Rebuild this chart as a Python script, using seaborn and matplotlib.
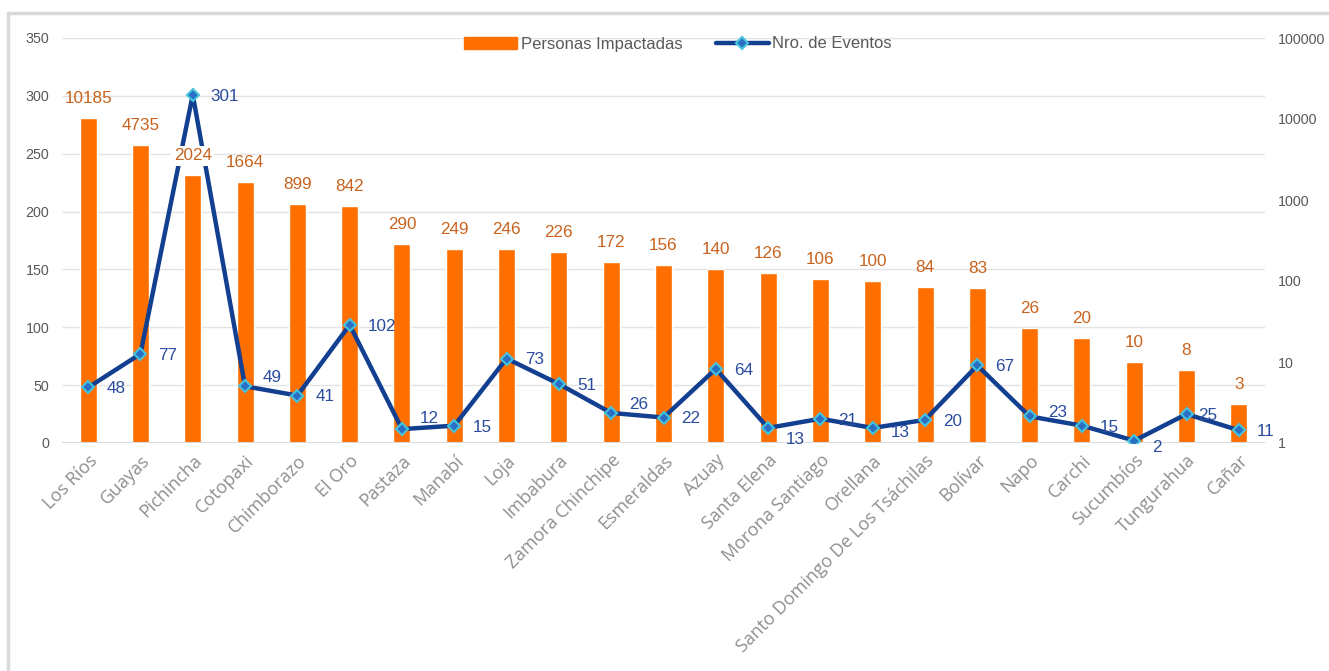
import matplotlib
matplotlib.use('Agg')
import matplotlib.pyplot as plt
import seaborn as sns
import numpy as np
from matplotlib.lines import Line2D
from matplotlib.patches import Patch

# Datos
provincias = ['Los Ríos', 'Guayas', 'Pichincha', 'Cotopaxi', 'Chimborazo', 'El Oro', 'Pastaza',
              'Manabí', 'Loja', 'Imbabura', 'Zamora Chinchipe', 'Esmeraldas', 'Azuay', 'Santa Elena',
              'Morona Santiago', 'Orellana', 'Santo Domingo De Los Tsáchilas', 'Bolívar', 'Napo',
              'Carchi', 'Sucumbíos', 'Tungurahua', 'Cañar']
personas = [10185, 4735, 2024, 1664, 899, 842, 290, 249, 246, 226, 172, 156, 140, 126, 106, 100,
            84, 83, 26, 20, 10, 8, 3]
eventos = [48, 77, 301, 49, 41, 102, 12, 15, 73, 51, 26, 22, 64, 13, 21, 13, 20, 67, 23, 15, 2, 25, 11]

naranja = '#FF6F00'
azul = '#123F8F'
gris = '#595959'

sns.set_style('white')
plt.rcParams['font.family'] = ['Liberation Sans', 'DejaVu Sans']

fig = plt.figure(figsize=(13.29, 6.71), dpi=100)
ax = fig.add_axes([62 / 1329, 1 - 443 / 671, 1203 / 1329, 405 / 671])
ax_b = ax.twinx()

# Barras (eje derecho logarítmico)
ax_b.set_yscale('log')
sns.barplot(x=list(range(len(provincias))), y=personas, ax=ax_b, color=naranja,
            width=0.325, saturation=1, native_scale=True, zorder=2)
ax_b.set_ylim(1, 100000)

# Líneas de cuadrícula (eje izquierdo 0-350)
fr = np.arange(0, 8) / 7
ax_b.hlines(fr[1:], 0, 1, transform=ax_b.transAxes, color='#E3E3E3', lw=1, zorder=0)
ax_b.hlines([0], 0, 1, transform=ax_b.transAxes, color='#D9D9D9', lw=1.5, zorder=3)

# Línea (eje izquierdo)
ax.set_zorder(ax_b.get_zorder() + 1)
ax.patch.set_visible(False)
sns.lineplot(x=list(range(len(provincias))), y=eventos, ax=ax, color=azul, lw=3.2,
             marker='D', markersize=6, markerfacecolor='#2A6FC4', markeredgecolor='#45C3DD',
             markeredgewidth=1.5, zorder=4)
ax.set_ylim(0, 350)
ax.set_yticks(range(0, 351, 50))

# Etiquetas de las barras
for i, v in enumerate(personas):
    caja = dict(boxstyle='square,pad=0.15', fc='white', ec='none') if i == 2 else None
    ax.annotate(str(v), (i, v), xycoords=ax_b.transData, xytext=(0, 14),
                textcoords='offset points', ha='center', va='center', fontsize=12.3,
                color='#C8621C', zorder=6, bbox=caja)

# Etiquetas de la línea
dy = {3: 7, 6: 9, 10: 7, 13: -7, 15: -2, 18: 4, 20: -4}
dx = {21: -5}
for i, v in enumerate(eventos):
    ax.annotate(str(v), (i, v), xytext=(13 + dx.get(i, 0), -1 + dy.get(i, 0)),
                textcoords='offset points', ha='left', va='center', fontsize=12.3,
                color='#2A4C9E', zorder=6)

ax.set_xlim(-0.5, len(provincias) - 0.5)
ax.set_xticks(range(len(provincias)))
ax.set_xticklabels(provincias, rotation=45, ha='right', rotation_mode='anchor',
                   fontsize=13, color='#8F8F8F', family=['Open Sans', 'DejaVu Sans'])
ax_b.set_xticks(range(len(provincias)))

ax.tick_params(axis='y', length=0, pad=9, labelsize=10.3, labelcolor=gris)
ax.tick_params(axis='x', length=0, pad=6)
ax_b.tick_params(axis='y', which='both', length=0, pad=9, labelsize=10.3, labelcolor=gris)
ax_b.yaxis.set_major_formatter(matplotlib.ticker.FuncFormatter(lambda y, p: f'{int(y)}'))
ax_b.yaxis.set_minor_locator(matplotlib.ticker.NullLocator())
ax.set_xlabel('')
ax.set_ylabel('')
ax_b.set_ylabel('')
for a in (ax, ax_b):
    for s in a.spines.values():
        s.set_visible(False)

# Leyenda
handles = [Patch(color=naranja),
           Line2D([0], [0], color=azul, lw=3.2, marker='D', markersize=6,
                  markerfacecolor='#2A6FC4', markeredgecolor='#45C3DD', markeredgewidth=1.5)]
fig.legend(handles, ['Personas Impactadas', 'Nro. de Eventos'], loc='center',
           bbox_to_anchor=(678 / 1329, 1 - 44 / 671), ncol=2, frameon=False, fontsize=12,
           labelcolor=gris, handlelength=3.2, handletextpad=0.2, columnspacing=2)

# Borde del gráfico
fig.add_artist(Line2D([8 / 1329, 8 / 1329], [0, 1 - 13 / 671], color='#D9D9D9', lw=2.5,
                      transform=fig.transFigure))
fig.add_artist(Line2D([8 / 1329, 1], [1 - 13 / 671, 1 - 13 / 671], color='#D9D9D9', lw=2.5,
                      transform=fig.transFigure))

fig.savefig('out.png', dpi=100)
